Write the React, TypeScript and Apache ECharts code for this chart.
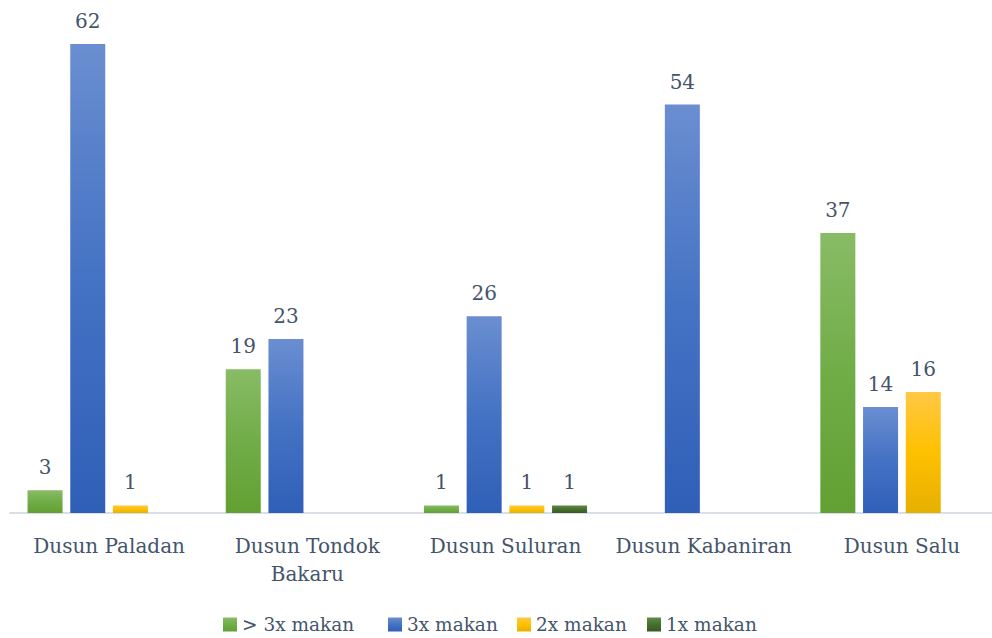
import React, { useEffect, useRef } from "react";
import * as echarts from "echarts";

const categories = ["Dusun Paladan", "Dusun Tondok\nBakaru", "Dusun Suluran", "Dusun Kabaniran", "Dusun Salu"];
const seriesNames = ["> 3x makan", "3x makan", "2x makan", "1x makan"];
const lebihTiga = [3, 19, 1, null, 37];
const tigaKali = [62, 23, 26, 54, 14];
const duaKali = [1, null, 1, null, 16];
const satuKali = [null, null, 1, null, null];

const gradients = [
  ["#88bb66", "#70ad47", "#62a033"],
  ["#6a8ed0", "#4472c4", "#2f5fb7"],
  ["#ffc845", "#ffc000", "#e6b000"],
  ["#5d8a45", "#476f2f", "#385a22"],
];
const legendLefts = [218, 383, 512, 642];

const TEXT = "#44546a";
const FONT = "DejaVu Serif";

export default function App() {
  const ref = useRef<HTMLDivElement>(null);
  useEffect(() => {
    const chart = echarts.init(ref.current!, null, { renderer: "svg" });
    const data = [lebihTiga, tigaKali, duaKali, satuKali];
    chart.setOption({
      animation: false,
      textStyle: { fontFamily: FONT, color: TEXT },
      grid: { left: 10, right: 0, top: 44, bottom: 125, containLabel: false },
      xAxis: {
        type: "category",
        data: categories,
        axisLine: { show: true, lineStyle: { color: "#d9dee8", width: 2 } },
        axisTick: { show: false },
        axisLabel: {
          color: TEXT,
          fontFamily: FONT,
          fontSize: 20,
          margin: 19,
          lineHeight: 28,
          interval: 0,
        },
      },
      yAxis: {
        type: "value",
        min: 0,
        max: 62,
        show: false,
        splitLine: { show: false },
      },
      legend: seriesNames.map((name, i) => ({
        bottom: -1,
        left: legendLefts[i],
        itemWidth: 14,
        itemHeight: 14,
        icon: "rect",
        selectedMode: false,
        textStyle: { color: TEXT, fontFamily: FONT, fontSize: 18.5 },
        data: [name],
      })),
      series: seriesNames.map((name, i) => ({
        name,
        type: "bar",
        data: data[i],
        barWidth: 35,
        barGap: "22%",
        itemStyle: {
          color: new echarts.graphic.LinearGradient(0, 0, 0, 1, [
            { offset: 0, color: gradients[i][0] },
            { offset: 0.5, color: gradients[i][1] },
            { offset: 1, color: gradients[i][2] },
          ]),
        },
        label: {
          show: true,
          position: "top",
          distance: 13,
          color: TEXT,
          fontFamily: FONT,
          fontSize: 20,
        },
      })),
    });
    return () => chart.dispose();
  }, []);
  return (
    <div style={{ width: 992, height: 638, position: "absolute", left: 0, top: 0, overflow: "hidden" }}>
      <div ref={ref} style={{ width: 1001, height: 638 }} />
    </div>
  );
}
